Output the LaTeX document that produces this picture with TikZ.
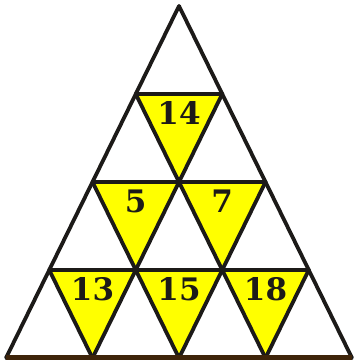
\documentclass[tikz,border=0pt]{standalone}
\usepackage{fontspec}
\setmainfont{DejaVu Serif}
\usepackage{tikz}
\usetikzlibrary{calc}
\definecolor{tryellow}{RGB}{255,255,0}
\definecolor{trline}{RGB}{28,26,24}
\definecolor{trbase}{RGB}{62,36,10}
\tikzset{
  cell/.style={fill=tryellow},
  gridline/.style={draw=trline, line width=3.8pt, line cap=round, line join=round},
  baseline/.style={draw=trbase, line width=5pt},
  num/.style={font=\fontsize{31}{31}\selectfont\bfseries, text=trline, inner sep=0pt}
}

\begin{document}
\begin{tikzpicture}[x=1pt, y=1pt]
  \useasboundingbox (0,0) rectangle (354,363);
  % lattice points, row r from the apex, k-th point in the row
  \foreach \r in {0,...,4}
    \foreach \k in {0,...,\r}
      \coordinate (p-\r-\k) at ({179-43.25*\r+86.5*\k}, {357-88*\r});
  % yellow triangles pointing down, with their numbers
  \foreach \r/\k/\n in {1/0/14, 2/0/5, 2/1/7, 3/0/13, 3/1/15, 3/2/18} {
    \pgfmathtruncatemacro\kk{\k+1}
    \pgfmathtruncatemacro\rr{\r+1}
    \fill[cell] (p-\r-\k) -- (p-\r-\kk) -- (p-\rr-\kk) -- cycle;
    \node[num] (n-\r-\k) at ($(p-\r-\k)!0.5!(p-\r-\kk)+(0,-19)$) {\n};
  }
  % grid lines
  \foreach \j in {1,...,3}
    \draw[gridline] (p-\j-0) -- (p-\j-\j);
  \foreach \j in {0,...,3} {
    \pgfmathtruncatemacro\jj{4-\j}
    \draw[gridline] (p-\j-\j) -- (p-4-\j);
    \draw[gridline] (p-\j-0) -- (p-4-\jj);
  }
  \draw[baseline] (p-4-0) -- (p-4-4);
\end{tikzpicture}
\end{document}
